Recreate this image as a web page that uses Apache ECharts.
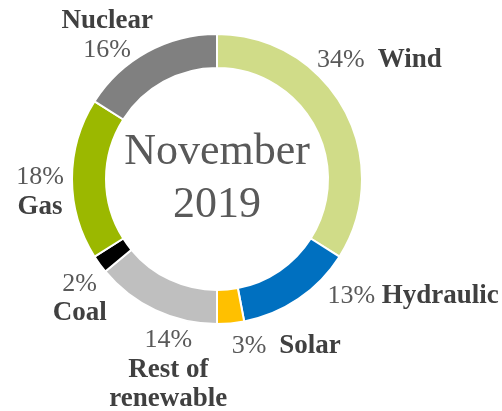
<!DOCTYPE html>
<html>
<head>
<meta charset="utf-8">
<script src="https://cdn.jsdelivr.net/npm/echarts@6/dist/echarts.min.js"></script>
<style>
  html, body { margin: 0; padding: 0; background: #fff; }
  #chart { width: 502px; height: 411px; }
</style>
</head>
<body>
<div id="chart"></div>
<script>
// electricity generation mix, November 2019 (%)
const sources = ['Wind', 'Hydraulic', 'Solar', 'Rest of\nrenewable', 'Coal', 'Gas', 'Nuclear'];
const shares = [34, 13, 3, 14, 2, 18, 16];
const colors = ['#d0dc88', '#0070c0', '#ffc000', '#bfbfbf', '#000000', '#9bb800', '#808080'];
// how the percentage sits next to the name: inline, below (pct first) or above (name first)
const labelKind = ['inline', 'inline', 'inline', 'below', 'below', 'below', 'above'];
const centerText = 'November\n2019';

// label placement, offset from the point on the outer edge at the slice middle
const labelShift = [[-27, -49], [29, -3], [1, 23], [13, 59], [-20, 34], [-32, 13], [-40, -16]];

const cx = 217, cy = 179, rOut = 145, rIn = 111;

const total = shares.reduce((a, b) => a + b, 0);
let acc = 0;
const midAngle = shares.map(v => {
  const m = (acc + v / 2) / total * Math.PI * 2;
  acc += v;
  return m;
});

const chart = echarts.init(document.getElementById('chart'));

const option = {
  animation: false,
  color: colors,
  graphic: [{
    type: 'text',
    x: cx,
    y: cy,
    style: {
      text: centerText,
      fontFamily: 'Liberation Serif',
      fontSize: 44,
      lineHeight: 53,
      fill: '#595959',
      align: 'center',
      verticalAlign: 'middle'
    }
  }],
  series: [{
    type: 'pie',
    center: [cx, cy],
    radius: [rIn, rOut],
    startAngle: 90,
    clockwise: true,
    avoidLabelOverlap: false,
    itemStyle: { borderColor: '#fff', borderWidth: 2 },
    labelLine: { show: false },
    label: {
      show: true,
      position: 'outside',
      fontFamily: 'Liberation Serif',
      fontSize: 26,
      color: '#595959',
      formatter: p => {
        const i = p.dataIndex;
        const nm = '{n|' + p.name + '}';
        if (labelKind[i] === 'inline') {
          const gap = p.name === 'Hydraulic' ? ' ' : '  ';
          return '{p|' + shares[i] + '%' + gap + '}' + nm;
        }
        const pct = '{p|' + shares[i] + '%}';
        if (labelKind[i] === 'below') return pct + '\n' + nm;
        return nm + '\n' + pct;
      },
      rich: {
        p: { fontFamily: 'Liberation Serif', fontSize: 26, color: '#595959', lineHeight: 30 },
        n: { fontFamily: 'Liberation Serif', fontSize: 27, fontWeight: 'bold', color: '#404040', lineHeight: 29 }
      }
    },
    labelLayout: p => {
      const i = p.dataIndex;
      const ax = cx + rOut * Math.sin(midAngle[i]);
      const ay = cy - rOut * Math.cos(midAngle[i]);
      return {
        x: ax + labelShift[i][0],
        y: ay + labelShift[i][1],
        align: labelKind[i] === 'inline' ? 'left' : 'center',
        verticalAlign: 'middle'
      };
    },
    data: sources.map((s, i) => ({ name: s, value: shares[i] }))
  }]
};

chart.setOption(option);
</script>
</body>
</html>
